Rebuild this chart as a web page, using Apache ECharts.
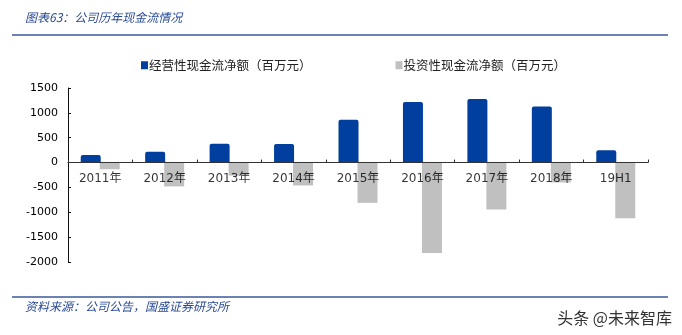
<!DOCTYPE html>
<html>
<head>
<meta charset="utf-8">
<script src="https://cdn.jsdelivr.net/npm/echarts@6/dist/echarts.min.js"></script>
<style>
  html, body { margin: 0; padding: 0; background: #fff; }
  #chart { width: 682px; height: 335px; }
</style>
</head>
<body>
<div id="chart"></div>
<script>
// Annual cash flow: operating vs. investing (million yuan)
const categories = ['2011年', '2012年', '2013年', '2014年', '2015年', '2016年', '2017年', '2018年', '19H1'];
const operatingCF = [150, 220, 380, 375, 860, 1220, 1280, 1130, 250];
const investingCF = [-135, -480, -260, -460, -810, -1820, -945, -400, -1120];
const yTicks = { min: -2000, max: 1500, step: 500 };

const seriesNames = ['经营性现金流净额（百万元）', '投资性现金流净额（百万元）'];
const titleText = '图表63：公司历年现金流情况';
const sourceText = '资料来源：公司公告，国盛证券研究所';
const markText = '头条 @未来智库';

const CJK = '"Noto Sans CJK SC", "DejaVu Sans", sans-serif';
const NUM = '"DejaVu Sans", "Noto Sans CJK SC", sans-serif';

const chart = echarts.init(document.getElementById('chart'), null, { renderer: 'canvas' });
chart.setOption({
  animation: false,
  backgroundColor: '#fff',
  color: ['#003f9e', '#c0c0c0'],
  graphic: [
    { type: 'text', left: 25, top: 11, style: { text: titleText, fill: '#2a4a94', font: 'italic 12px ' + CJK } },
    { type: 'line', shape: { x1: 12, y1: 35, x2: 668, y2: 35 }, style: { stroke: '#3a5a9a', lineWidth: 1.5 } },
    { type: 'line', shape: { x1: 12, y1: 297, x2: 668, y2: 297 }, style: { stroke: '#3a5a9a', lineWidth: 1.5 } },
    { type: 'text', left: 25, top: 300, style: { text: sourceText, fill: '#2a4a94', font: 'italic 12px ' + CJK } },
    { type: 'text', right: 10, top: 310, style: { text: markText, fill: '#333', font: '16px ' + CJK } }
  ],
  legend: {
    top: 54,
    left: 136,
    itemGap: 84,
    itemWidth: 7,
    itemHeight: 8,
    icon: 'rect',
    textStyle: { fontFamily: CJK, fontSize: 12.5, color: '#222', padding: [0, 0, 0, -4] },
    data: seriesNames
  },
  grid: { left: 68, right: 34, top: 88, bottom: 73, containLabel: false },
  xAxis: {
    type: 'category',
    data: categories,
    z: 10,
    axisLine: { onZero: true, lineStyle: { color: '#333', width: 1 } },
    axisTick: { show: true, inside: true, length: 3, lineStyle: { color: '#333' } },
    axisLabel: { show: false },
    splitLine: { show: false }
  },
  yAxis: {
    type: 'value',
    min: yTicks.min,
    max: yTicks.max,
    interval: yTicks.step,
    axisLine: { show: true, lineStyle: { color: '#111', width: 1 } },
    axisTick: { show: true, inside: true, length: 3, lineStyle: { color: '#111' } },
    axisLabel: { margin: 10, color: '#000', fontFamily: NUM, fontSize: 11, formatter: v => String(v) },
    splitLine: { show: false }
  },
  series: [
    {
      name: seriesNames[0], type: 'bar', data: operatingCF,
      barWidth: 20, barGap: '-5%',
      itemStyle: { borderRadius: [2, 2, 0, 0] }
    },
    {
      name: seriesNames[1], type: 'bar', data: investingCF,
      barWidth: 20
    },
    {
      // category labels sitting just under the zero line
      type: 'scatter',
      data: categories.map(c => [c, 0]),
      symbolSize: 0,
      silent: true,
      z: 20,
      label: {
        show: true,
        position: 'bottom',
        distance: 10,
        formatter: p => p.data[0],
        color: '#000',
        fontFamily: NUM,
        fontSize: 12
      }
    }
  ]
});
</script>
</body>
</html>
